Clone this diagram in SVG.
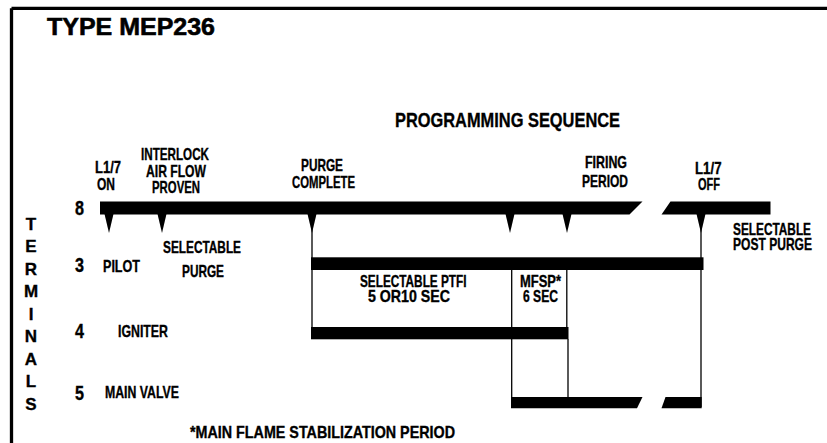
<svg xmlns="http://www.w3.org/2000/svg" width="827" height="443" viewBox="0 0 827 443">
<style>
text{font-family:"Liberation Sans Narrow","Liberation Sans",Arial,sans-serif;font-weight:bold;fill:#000;stroke:#000;stroke-width:0.35}
.s{font-size:16.3px}
.d{font-size:19.5px}
.v{font-size:17px}
.bar{fill:#000}
.ln{stroke:#000;stroke-width:1.3;fill:none}
</style>
<defs>
<polygon id="tri" points="-4.5,0 4.5,0 0,19" fill="#000"/>
</defs>
<g id="frame">
<line x1="11.5" y1="8.3" x2="827" y2="8.3" stroke="#000" stroke-width="3.3"/>
<line x1="11.5" y1="8.3" x2="11.5" y2="443" stroke="#000" stroke-width="3.3"/>
</g>
<g id="title">
<text x="47" y="35" style="font-family:'Liberation Sans',Arial,sans-serif;font-size:24px;stroke-width:0.6" textLength="168" lengthAdjust="spacingAndGlyphs">TYPE MEP236</text>
<text x="395" y="127" style="font-size:20.5px" textLength="225" lengthAdjust="spacingAndGlyphs">PROGRAMMING SEQUENCE</text>
</g>
<g id="terminals-label" class="v" text-anchor="middle">
<text x="31" y="230">T</text>
<text x="31" y="252">E</text>
<text x="31" y="275">R</text>
<text x="31" y="297">M</text>
<text x="31" y="320">I</text>
<text x="31" y="342">N</text>
<text x="31" y="365">A</text>
<text x="31" y="387">L</text>
<text x="31" y="410">S</text>
</g>
<g id="terminal-numbers" class="d">
<text x="75" y="215" textLength="9" lengthAdjust="spacingAndGlyphs">8</text>
<text x="75" y="272" textLength="9" lengthAdjust="spacingAndGlyphs">3</text>
<text x="75" y="338" textLength="9" lengthAdjust="spacingAndGlyphs">4</text>
<text x="75" y="400" textLength="9" lengthAdjust="spacingAndGlyphs">5</text>
</g>
<g id="event-labels" class="s">
<text x="95" y="173" textLength="26" lengthAdjust="spacingAndGlyphs">L1/7</text>
<text x="97" y="190" textLength="18" lengthAdjust="spacingAndGlyphs">ON</text>
<text x="141" y="160" textLength="68" lengthAdjust="spacingAndGlyphs">INTERLOCK</text>
<text x="146" y="177" textLength="60" lengthAdjust="spacingAndGlyphs">AIR FLOW</text>
<text x="152" y="193" textLength="48" lengthAdjust="spacingAndGlyphs">PROVEN</text>
<text x="301" y="170.5" textLength="42" lengthAdjust="spacingAndGlyphs">PURGE</text>
<text x="292" y="188" textLength="63" lengthAdjust="spacingAndGlyphs">COMPLETE</text>
<text x="585" y="168" textLength="42" lengthAdjust="spacingAndGlyphs">FIRING</text>
<text x="582" y="187" textLength="46" lengthAdjust="spacingAndGlyphs">PERIOD</text>
<text x="695" y="174" textLength="26.5" lengthAdjust="spacingAndGlyphs">L1/7</text>
<text x="698" y="190" textLength="22" lengthAdjust="spacingAndGlyphs">OFF</text>
<text x="733" y="235" textLength="78" lengthAdjust="spacingAndGlyphs">SELECTABLE</text>
<text x="733" y="250" textLength="79" lengthAdjust="spacingAndGlyphs">POST PURGE</text>
</g>
<g id="row-labels" class="s">
<text x="103" y="272" textLength="37" lengthAdjust="spacingAndGlyphs">PILOT</text>
<text x="163" y="253" textLength="78" lengthAdjust="spacingAndGlyphs">SELECTABLE</text>
<text x="182" y="277" textLength="42" lengthAdjust="spacingAndGlyphs">PURGE</text>
<text x="118" y="337" textLength="50" lengthAdjust="spacingAndGlyphs">IGNITER</text>
<text x="105" y="398" textLength="74" lengthAdjust="spacingAndGlyphs">MAIN VALVE</text>
<text x="360" y="287" textLength="106.5" lengthAdjust="spacingAndGlyphs">SELECTABLE PTFI</text>
<text x="368" y="302" textLength="82" lengthAdjust="spacingAndGlyphs">5 OR10 SEC</text>
<text x="520" y="287" textLength="41" lengthAdjust="spacingAndGlyphs">MFSP*</text>
<text x="523" y="302" textLength="35" lengthAdjust="spacingAndGlyphs">6 SEC</text>
<text x="190" y="438" textLength="265" lengthAdjust="spacingAndGlyphs">*MAIN FLAME STABILIZATION PERIOD</text>
</g>
<g id="bar-8">
<polygon class="bar" points="100,201.5 642.5,201.5 629.5,214.5 100,214.5"/>
<polygon class="bar" points="670.5,201.5 770.5,201.5 770.5,214.5 661.5,214.5"/>
<use href="#tri" x="109" y="214"/>
<use href="#tri" x="162" y="214"/>
<use href="#tri" x="312" y="214"/>
<use href="#tri" x="510" y="214"/>
<use href="#tri" x="567" y="214"/>
<use href="#tri" x="701" y="214"/>
</g>
<g id="bar-3">
<rect class="bar" x="311" y="257.3" width="392.5" height="12.7"/>
</g>
<g id="bar-4">
<rect class="bar" x="311" y="327" width="257.5" height="12.3"/>
</g>
<g id="bar-5">
<polygon class="bar" points="511,397 642.5,397 637,408.3 511,408.3"/>
<polygon class="bar" points="665.5,397 701.7,397 701.7,408.3 661.5,408.3"/>
</g>
<g id="connectors">
<line class="ln" x1="312" y1="228" x2="312" y2="339"/>
<line class="ln" x1="511.7" y1="270" x2="511.7" y2="398"/>
<line class="ln" x1="566.8" y1="270" x2="566.8" y2="327"/>
<line class="ln" x1="568" y1="339" x2="568" y2="398"/>
<line class="ln" x1="701" y1="228" x2="701" y2="407"/>
</g>
</svg>
